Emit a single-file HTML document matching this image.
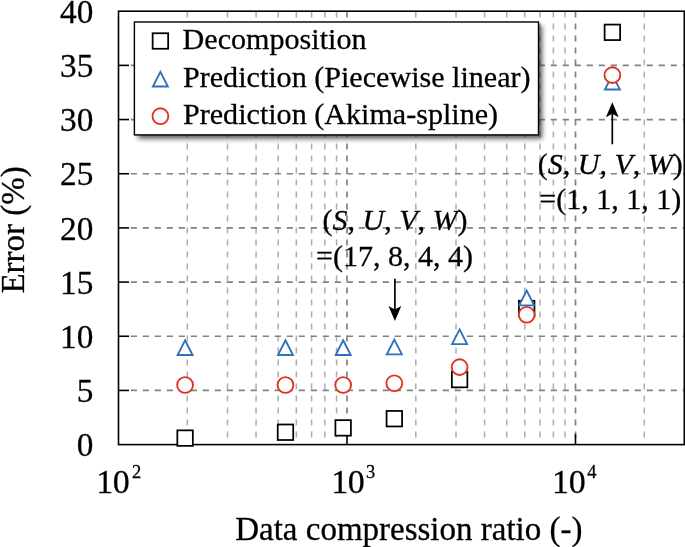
<!DOCTYPE html>
<html><head><meta charset="utf-8"><title>Error vs data compression ratio</title>
<style>html,body{margin:0;padding:0;background:#fff;}body{width:685px;height:547px;overflow:hidden;position:relative;font-family:"Liberation Serif",serif;color:#000;}svg{position:absolute;left:0;top:0;display:block;}text{font-family:"Liberation Serif",serif;fill:#000;stroke:#000;stroke-width:0.28px;}</style></head><body>
<svg width="685" height="547" viewBox="0 0 685 547">
<defs><filter id="sh" x="-10%" y="-10%" width="130%" height="140%"><feGaussianBlur stdDeviation="2.7"/></filter></defs>
<rect x="0" y="0" width="685" height="547" fill="#fff"/>
<g stroke="#adadad" stroke-width="1.5" stroke-dasharray="6 6" fill="none">
<line x1="187.29" y1="437.5" x2="187.29" y2="11.20"/>
<line x1="227.52" y1="437.5" x2="227.52" y2="11.20"/>
<line x1="256.07" y1="437.5" x2="256.07" y2="11.20"/>
<line x1="278.21" y1="437.5" x2="278.21" y2="11.20"/>
<line x1="296.31" y1="437.5" x2="296.31" y2="11.20"/>
<line x1="311.60" y1="437.5" x2="311.60" y2="11.20"/>
<line x1="324.86" y1="437.5" x2="324.86" y2="11.20"/>
<line x1="336.54" y1="437.5" x2="336.54" y2="11.20"/>
<line x1="415.79" y1="437.5" x2="415.79" y2="11.20"/>
<line x1="456.02" y1="437.5" x2="456.02" y2="11.20"/>
<line x1="484.57" y1="437.5" x2="484.57" y2="11.20"/>
<line x1="506.71" y1="437.5" x2="506.71" y2="11.20"/>
<line x1="524.81" y1="437.5" x2="524.81" y2="11.20"/>
<line x1="540.10" y1="437.5" x2="540.10" y2="11.20"/>
<line x1="553.36" y1="437.5" x2="553.36" y2="11.20"/>
<line x1="565.04" y1="437.5" x2="565.04" y2="11.20"/>
<line x1="644.29" y1="437.5" x2="644.29" y2="11.20"/>
</g>
<g stroke="#828282" stroke-width="1.7" stroke-dasharray="6 6" fill="none">
<line x1="347.00" y1="437.5" x2="347.00" y2="11.20"/>
<line x1="575.50" y1="437.5" x2="575.50" y2="11.20"/>
</g>
<g stroke="#828282" stroke-width="1.65" stroke-dasharray="6.2 5.8" fill="none">
<line x1="130.70" y1="390.43" x2="684.30" y2="390.43"/>
<line x1="130.70" y1="336.25" x2="684.30" y2="336.25"/>
<line x1="130.70" y1="282.07" x2="684.30" y2="282.07"/>
<line x1="130.70" y1="227.90" x2="684.30" y2="227.90"/>
<line x1="130.70" y1="173.73" x2="684.30" y2="173.73"/>
<line x1="130.70" y1="119.55" x2="684.30" y2="119.55"/>
<line x1="130.70" y1="65.38" x2="684.30" y2="65.38"/>
</g>
<rect x="118.50" y="11.20" width="565.80" height="433.40" fill="none" stroke="#000" stroke-width="1.6"/>
<g stroke="#000" stroke-width="1.6">
<line x1="118.50" y1="390.43" x2="129.00" y2="390.43"/>
<line x1="118.50" y1="336.25" x2="129.00" y2="336.25"/>
<line x1="118.50" y1="282.07" x2="129.00" y2="282.07"/>
<line x1="118.50" y1="227.90" x2="129.00" y2="227.90"/>
<line x1="118.50" y1="173.73" x2="129.00" y2="173.73"/>
<line x1="118.50" y1="119.55" x2="129.00" y2="119.55"/>
<line x1="118.50" y1="65.38" x2="129.00" y2="65.38"/>
<line x1="347.00" y1="444.60" x2="347.00" y2="434.10"/>
<line x1="575.50" y1="444.60" x2="575.50" y2="434.10"/>
</g>
<text x="322.5" y="229.7" font-size="30">(<tspan font-style="italic">S</tspan>, <tspan font-style="italic">U</tspan>, <tspan font-style="italic">V</tspan>, <tspan font-style="italic">W</tspan>)</text>
<text x="316.0" y="265.7" font-size="30">=(17, 8, 4, 4)</text>
<text x="537.8" y="173.5" font-size="30">(<tspan font-style="italic">S</tspan>, <tspan font-style="italic">U</tspan>, <tspan font-style="italic">V</tspan>, <tspan font-style="italic">W</tspan>)</text>
<text x="539.3" y="208.6" font-size="30">=(1, 1, 1, 1)</text>
<line x1="394.9" y1="278.7" x2="394.9" y2="312.9" stroke="#000" stroke-width="1.7"/>
<path d="M394.9 320.9 L388.5 305.9 L394.9 309.4 L401.29999999999995 305.9 Z" fill="#000"/>
<line x1="612.3" y1="144.3" x2="612.3" y2="110.2" stroke="#000" stroke-width="1.7"/>
<path d="M612.3 102.2 L605.9 117.2 L612.3 113.7 L618.6999999999999 117.2 Z" fill="#000"/>
<rect x="177.33" y="430.35" width="15.5" height="15.5" fill="#fff" stroke="#000" stroke-width="1.75"/>
<rect x="277.73" y="424.50" width="15.5" height="15.5" fill="#fff" stroke="#000" stroke-width="1.75"/>
<rect x="335.41" y="420.16" width="15.5" height="15.5" fill="#fff" stroke="#000" stroke-width="1.75"/>
<rect x="386.57" y="410.95" width="15.5" height="15.5" fill="#fff" stroke="#000" stroke-width="1.75"/>
<rect x="451.85" y="371.84" width="15.5" height="15.5" fill="#fff" stroke="#000" stroke-width="1.75"/>
<rect x="518.94" y="300.76" width="15.5" height="15.5" fill="#fff" stroke="#000" stroke-width="1.75"/>
<rect x="604.62" y="24.58" width="15.5" height="15.5" fill="#fff" stroke="#000" stroke-width="1.75"/>
<path d="M185.08 340.29 L192.58 354.99 L177.58 354.99 Z" fill="#fff" stroke="#3070ba" stroke-width="1.85" stroke-linejoin="miter"/>
<path d="M285.48 340.29 L292.98 354.99 L277.98 354.99 Z" fill="#fff" stroke="#3070ba" stroke-width="1.85" stroke-linejoin="miter"/>
<path d="M343.16 340.29 L350.66 354.99 L335.66 354.99 Z" fill="#fff" stroke="#3070ba" stroke-width="1.85" stroke-linejoin="miter"/>
<path d="M394.32 339.63 L401.82 354.33 L386.82 354.33 Z" fill="#fff" stroke="#3070ba" stroke-width="1.85" stroke-linejoin="miter"/>
<path d="M459.60 329.45 L467.10 344.15 L452.10 344.15 Z" fill="#fff" stroke="#3070ba" stroke-width="1.85" stroke-linejoin="miter"/>
<path d="M526.69 290.66 L534.19 305.36 L519.19 305.36 Z" fill="#fff" stroke="#3070ba" stroke-width="1.85" stroke-linejoin="miter"/>
<path d="M612.37 74.83 L619.87 89.53 L604.87 89.53 Z" fill="#fff" stroke="#3070ba" stroke-width="1.85" stroke-linejoin="miter"/>
<circle cx="185.08" cy="385.01" r="7.9" fill="#fff" stroke="#e0301f" stroke-width="1.85"/>
<circle cx="285.48" cy="385.01" r="7.9" fill="#fff" stroke="#e0301f" stroke-width="1.85"/>
<circle cx="343.16" cy="385.01" r="7.9" fill="#fff" stroke="#e0301f" stroke-width="1.85"/>
<circle cx="394.32" cy="383.27" r="7.9" fill="#fff" stroke="#e0301f" stroke-width="1.85"/>
<circle cx="459.60" cy="367.13" r="7.9" fill="#fff" stroke="#e0301f" stroke-width="1.85"/>
<circle cx="526.69" cy="314.80" r="7.9" fill="#fff" stroke="#e0301f" stroke-width="1.85"/>
<circle cx="612.37" cy="75.13" r="7.9" fill="#fff" stroke="#e0301f" stroke-width="1.85"/>
<rect x="138.0" y="25.8" width="404.1" height="112.9" fill="#3a2e2e" opacity="0.8" filter="url(#sh)"/>
<rect x="134.4" y="22.0" width="404.1" height="112.9" fill="#fff" stroke="#000" stroke-width="1.4"/>
<rect x="152.65" y="33.25" width="15.5" height="15.5" fill="#fff" stroke="#000" stroke-width="1.75"/>
<path d="M160.40 71.80 L167.90 86.50 L152.90 86.50 Z" fill="#fff" stroke="#3070ba" stroke-width="1.85" stroke-linejoin="miter"/>
<circle cx="160.40" cy="116.20" r="7.9" fill="#fff" stroke="#e0301f" stroke-width="1.85"/>
<text x="182.6" y="49.2" font-size="30.1">Decomposition</text>
<text x="183.0" y="86.8" font-size="30.1">Prediction (Piecewise linear)</text>
<text x="183.0" y="124.4" font-size="30.1">Prediction (Akima-spline)</text>
<text x="93.4" y="456.20" font-size="33.3" text-anchor="end">0</text>
<text x="93.4" y="402.03" font-size="33.3" text-anchor="end">5</text>
<text x="93.4" y="347.85" font-size="33.3" text-anchor="end">10</text>
<text x="93.4" y="293.68" font-size="33.3" text-anchor="end">15</text>
<text x="93.4" y="239.50" font-size="33.3" text-anchor="end">20</text>
<text x="93.4" y="185.33" font-size="33.3" text-anchor="end">25</text>
<text x="93.4" y="131.15" font-size="33.3" text-anchor="end">30</text>
<text x="93.4" y="76.97" font-size="33.3" text-anchor="end">35</text>
<text x="93.4" y="22.80" font-size="33.3" text-anchor="end">40</text>
<text y="493" font-size="34" text-anchor="middle"><tspan x="104.8">1</tspan><tspan x="121.35">0</tspan><tspan x="136.5" y="477.8" font-size="18.5">2</tspan></text>
<text y="493" font-size="34" text-anchor="middle"><tspan x="339.7">1</tspan><tspan x="356.25">0</tspan><tspan x="370.55" y="477.8" font-size="18.5">3</tspan></text>
<text y="493" font-size="34" text-anchor="middle"><tspan x="560.4">1</tspan><tspan x="577.35">0</tspan><tspan x="591.9" y="477.8" font-size="18.5">4</tspan></text>
<text x="235.2" y="539.8" font-size="33">Data compression ratio (-)</text>
<text transform="translate(23.7 293.6) rotate(-90)" font-size="33">Error (%)</text>
</svg></body></html>
